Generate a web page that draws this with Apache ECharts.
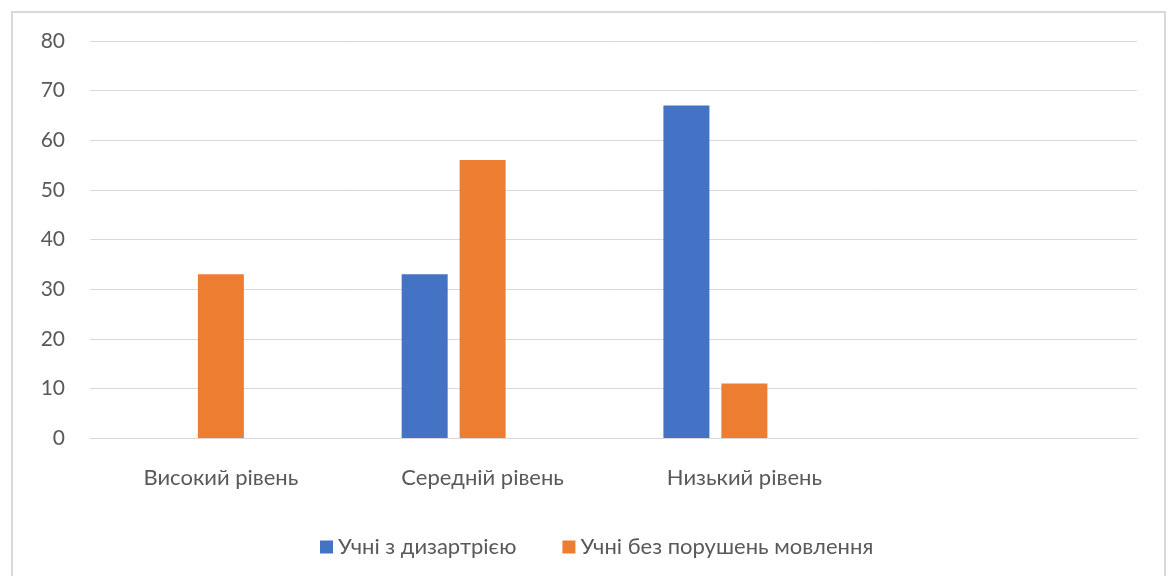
<!DOCTYPE html>
<html>
<head>
<meta charset="utf-8">
<script src="https://cdn.jsdelivr.net/npm/echarts@6/dist/echarts.min.js"></script>
<style>
html,body{margin:0;padding:0;background:#fff;}
#chart{width:1172px;height:576px;}
</style>
</head>
<body>
<div id="chart"></div>
<script>
const categories = ['Високий рівень', 'Середній рівень', 'Низький рівень', ''];
const seriesNames = ['Учні з дизартрією', 'Учні без порушень мовлення'];
const dysarthria = [null, 33, 67, null];
const noDisorder = [33, 56, 11, null];
const emptySeries = [null, null, null, null];
const yTicks = { min: 0, max: 80, interval: 10 };

const FONT = 'Lato, "Open Sans", sans-serif';
const chart = echarts.init(document.getElementById('chart'));
chart.setOption({
  animation: false,
  textStyle: { fontFamily: FONT },
  graphic: [{
    type: 'rect',
    shape: { x: 12, y: 12, width: 1153, height: 600 },
    style: { fill: 'none', stroke: '#D9D9D9', lineWidth: 2 },
    silent: true
  }],
  grid: { left: 90, right: 35, top: 41, bottom: 138, containLabel: false },
  legend: {
    data: seriesNames,
    top: 531,
    left: 315,
    icon: 'rect',
    itemWidth: 13,
    itemHeight: 13,
    itemGap: 46,
    textStyle: { color: '#595959', fontSize: 22, fontFamily: FONT }
  },
  xAxis: {
    type: 'category',
    data: categories,
    axisLine: { show: true, lineStyle: { color: '#D9D9D9', width: 1 } },
    axisTick: { show: false },
    axisLabel: { color: '#595959', fontSize: 22, margin: 29, fontFamily: FONT, interval: 0 },
    splitLine: { show: false }
  },
  yAxis: {
    type: 'value',
    min: yTicks.min,
    max: yTicks.max,
    interval: yTicks.interval,
    axisLine: { show: false },
    axisTick: { show: false },
    axisLabel: { color: '#595959', fontSize: 21, margin: 25, fontFamily: FONT },
    splitLine: { lineStyle: { color: '#D9D9D9', width: 1 } }
  },
  series: [
    { name: seriesNames[0], type: 'bar', data: dysarthria, barWidth: 46, barGap: '26%', itemStyle: { color: '#4472C4' } },
    { name: seriesNames[1], type: 'bar', data: noDisorder, barWidth: 46, barGap: '26%', itemStyle: { color: '#ED7D31' } },
    { name: 'hidden', type: 'bar', data: emptySeries, barWidth: 46, barGap: '26%', itemStyle: { color: '#A5A5A5' } }
  ]
});
</script>
</body>
</html>
